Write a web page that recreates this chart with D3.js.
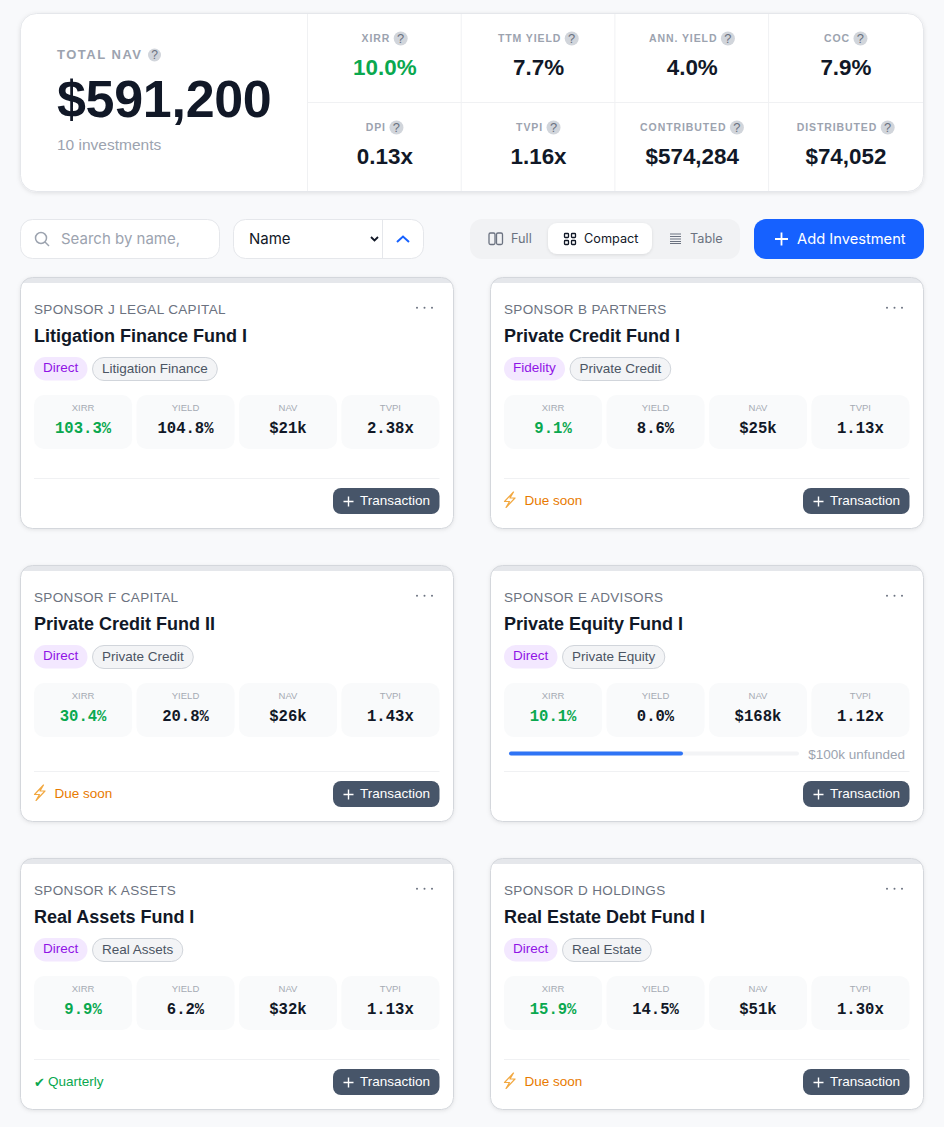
<!DOCTYPE html>
<html>
<head>
<meta charset="utf-8">
<script src="https://cdn.jsdelivr.net/npm/d3@7"></script>
<style>
  html, body { margin: 0; padding: 0; background: #f8f9fb; }
  svg { display: block; }
  text { font-family: "Liberation Sans", Arial, sans-serif; }
  .inter { font-family: Inter, sans-serif; }
  .mono { font-family: "Liberation Mono", monospace; font-weight: 700; }
  .dingbat { font-family: "DejaVu Sans", sans-serif; }
</style>
</head>
<body>
<svg width="944" height="1127"></svg>
<script>
// summary panel
var navLabel = "TOTAL NAV", navValue = "$591,200", navCount = "10 investments";
var statLabels = ["XIRR", "TTM YIELD", "ANN. YIELD", "COC", "DPI", "TVPI", "CONTRIBUTED", "DISTRIBUTED"];
var statValues = ["10.0%", "7.7%", "4.0%", "7.9%", "0.13x", "1.16x", "$574,284", "$74,052"];

// cards
var sponsors = ["SPONSOR J LEGAL CAPITAL", "SPONSOR B PARTNERS", "SPONSOR F CAPITAL", "SPONSOR E ADVISORS", "SPONSOR K ASSETS", "SPONSOR D HOLDINGS"];
var funds = ["Litigation Finance Fund I", "Private Credit Fund I", "Private Credit Fund II", "Private Equity Fund I", "Real Assets Fund I", "Real Estate Debt Fund I"];
var channels = ["Direct", "Fidelity", "Direct", "Direct", "Direct", "Direct"];
var assetClasses = ["Litigation Finance", "Private Credit", "Private Credit", "Private Equity", "Real Assets", "Real Estate"];
var metricNames = ["XIRR", "YIELD", "NAV", "TVPI"];
var xirrs = ["103.3%", "9.1%", "30.4%", "10.1%", "9.9%", "15.9%"];
var yields = ["104.8%", "8.6%", "20.8%", "0.0%", "6.2%", "14.5%"];
var navs = ["$21k", "$25k", "$26k", "$168k", "$32k", "$51k"];
var tvpis = ["2.38x", "1.13x", "1.43x", "1.12x", "1.13x", "1.30x"];
var statuses = ["", "Due soon", "Due soon", "", "Quarterly", "Due soon"];
var fundedShare = [null, null, null, 0.6, null, null];
var unfundedLabels = ["", "", "", "$100k unfunded", "", ""];

var svg = d3.select("svg");
var ink = "#111827", green = "#0aa84f", grey = "#9ca3af", line = "#f0f1f3", blue = "#1661ff";

function txt(g, x, y, s, size, fill, opts) {
  opts = opts || {};
  return g.append("text").attr("x", x).attr("y", y).text(s)
    .attr("font-size", size).attr("fill", fill)
    .attr("text-anchor", opts.anchor || "start")
    .attr("font-weight", opts.weight || 400)
    .attr("letter-spacing", opts.spacing || null)
    .attr("class", opts.cls || null);
}

function help(g, cx, cy, r) {
  g.append("circle").attr("cx", cx).attr("cy", cy).attr("r", r).attr("fill", "#d1d5db");
  txt(g, cx, cy + r * 0.62, "?", r * 1.85, "#6b7280", { anchor: "middle" });
}

var defs = svg.append("defs");
var shadow = defs.append("filter").attr("id", "soft").attr("x", "-5%").attr("y", "-5%").attr("width", "110%").attr("height", "112%");
shadow.append("feDropShadow").attr("dx", 0).attr("dy", 1).attr("stdDeviation", 2).attr("flood-color", "#000").attr("flood-opacity", 0.1);
var shadowS = defs.append("filter").attr("id", "soft2").attr("x", "-10%").attr("y", "-20%").attr("width", "120%").attr("height", "150%");
shadowS.append("feDropShadow").attr("dx", 0).attr("dy", 1).attr("stdDeviation", 1.5).attr("flood-color", "#000").attr("flood-opacity", 0.1);

// ---- summary panel
var panel = svg.append("g");
panel.append("rect").attr("x", 20.5).attr("y", 13.5).attr("width", 903).attr("height", 178).attr("rx", 16)
  .attr("fill", "#fff").attr("stroke", "#e5e7eb").attr("filter", "url(#soft)");

txt(panel, 57, 59, navLabel, 13, grey, { weight: 700, spacing: "1.5px" });
help(panel, 154.5, 55, 6.5);
txt(panel, 57, 117, navValue, 52, ink, { weight: 700, spacing: "-0.3px" });
txt(panel, 57, 150, navCount, 15.5, grey);

var statX = d3.scaleBand().domain(d3.range(4)).range([307.5, 922.3]);
var statY = d3.scaleBand().domain(d3.range(2)).range([13.5, 191.5]);

statX.domain().forEach(function (i) {
  panel.append("line").attr("x1", statX(i)).attr("x2", statX(i)).attr("y1", 14).attr("y2", 191).attr("stroke", line);
});
panel.append("line").attr("x1", 308).attr("x2", 923).attr("y1", 102.5).attr("y2", 102.5).attr("stroke", line);

statLabels.forEach(function (d, i) {
  var col = i % 4, row = Math.floor(i / 4);
  var cx = statX(col) + statX.bandwidth() / 2, y0 = statY(row);
  var g = panel.append("g");
  var t = txt(g, cx - 8.5, y0 + 28.5, d, 10.5, grey, { anchor: "middle", weight: 700, spacing: "0.9px" });
  var w = t.node().getComputedTextLength();
  help(g, cx - 8.5 + w / 2 + 10.5, y0 + 25, 7);
  txt(g, cx + 0.5, y0 + 61.5, statValues[i], 22.4, i === 0 ? green : ink, { anchor: "middle", weight: 700 });
});

// ---- toolbar
var bar = svg.append("g");
bar.append("rect").attr("x", 20.5).attr("y", 219.5).attr("width", 199).attr("height", 39).attr("rx", 12).attr("fill", "#fff").attr("stroke", "#e5e7eb");
bar.append("circle").attr("cx", 41).attr("cy", 238).attr("r", 5.5).attr("fill", "none").attr("stroke", grey).attr("stroke-width", 1.5);
bar.append("line").attr("x1", 45).attr("y1", 242).attr("x2", 49).attr("y2", 246).attr("stroke", grey).attr("stroke-width", 1.5);
txt(bar, 61, 244, "Search by name,", 15, grey, { cls: "inter" });

bar.append("rect").attr("x", 233.5).attr("y", 219.5).attr("width", 190).attr("height", 39).attr("rx", 12).attr("fill", "#fff").attr("stroke", "#e5e7eb");
bar.append("line").attr("x1", 382.5).attr("x2", 382.5).attr("y1", 220).attr("y2", 258).attr("stroke", "#e5e7eb");
txt(bar, 249, 244, "Name", 15, ink, { cls: "inter" });
bar.append("path").attr("d", "M371 237l3.5 3.5 3.5-3.5").attr("fill", "none").attr("stroke", ink).attr("stroke-width", 1.8);
bar.append("path").attr("d", "M397 242l6-5.5 6 5.5").attr("fill", "none").attr("stroke", blue).attr("stroke-width", 2);

// view toggle
bar.append("rect").attr("x", 470).attr("y", 219).attr("width", 270).attr("height", 40).attr("rx", 12).attr("fill", "#f1f2f4");
bar.append("rect").attr("x", 548).attr("y", 223).attr("width", 104).attr("height", 31).attr("rx", 9).attr("fill", "#fff").attr("filter", "url(#soft2)");
bar.append("rect").attr("x", 489).attr("y", 233).attr("width", 6).attr("height", 11.5).attr("rx", 1.5).attr("fill", "none").attr("stroke", "#6b7280").attr("stroke-width", 1.3);
bar.append("rect").attr("x", 496.5).attr("y", 233).attr("width", 6).attr("height", 11.5).attr("rx", 1.5).attr("fill", "none").attr("stroke", "#6b7280").attr("stroke-width", 1.3);
txt(bar, 511, 243, "Full", 12.7, "#6b7280", { cls: "inter" });
[[564.5, 233.5], [571.5, 233.5], [564.5, 240.5], [571.5, 240.5]].forEach(function (p) {
  bar.append("rect").attr("x", p[0]).attr("y", p[1]).attr("width", 4).attr("height", 4).attr("rx", 0.8).attr("fill", "none").attr("stroke", ink).attr("stroke-width", 1.3);
});
txt(bar, 584, 243, "Compact", 12.7, ink, { cls: "inter" });
[234, 236.5, 239, 241.5, 243.5].forEach(function (y) {
  bar.append("line").attr("x1", 670).attr("x2", 681).attr("y1", y).attr("y2", y).attr("stroke", "#6b7280");
});
txt(bar, 690, 243, "Table", 12.7, "#6b7280", { cls: "inter" });

bar.append("rect").attr("x", 754).attr("y", 219).attr("width", 170).attr("height", 40).attr("rx", 12).attr("fill", blue);
bar.append("path").attr("d", "M775 239h13M781.5 232.5v13").attr("stroke", "#fff").attr("stroke-width", 1.8);
txt(bar, 797, 244, "Add Investment", 14.7, "#fff", { cls: "inter" });

// ---- cards
var cardX = d3.scaleBand().domain(d3.range(2)).range([20.5, 923.5]).paddingInner(37 / 470);
var rowTops = [277.5, 565.5, 858.5];
var rowHeights = [251, 256, 251];
var tileX = d3.scaleBand().domain(metricNames).range([13.5, 419]).paddingInner(0.042);
var fundScale = d3.scaleLinear().domain([0, 1]).range([509, 799]);

sponsors.forEach(function (sponsor, i) {
  var row = Math.floor(i / 2), h = rowHeights[row];
  var g = svg.append("g").attr("transform", "translate(" + cardX(i % 2) + "," + rowTops[row] + ")");
  var w = cardX.bandwidth();
  var clipId = "c" + i;
  defs.append("clipPath").attr("id", clipId).append("rect").attr("width", w).attr("height", h).attr("rx", 12);

  g.append("rect").attr("width", w).attr("height", h).attr("rx", 12).attr("fill", "#fff").attr("filter", "url(#soft)");
  g.append("rect").attr("width", w).attr("height", 5.5).attr("fill", "#e5e7eb").attr("clip-path", "url(#" + clipId + ")");
  g.append("rect").attr("width", w).attr("height", h).attr("rx", 12).attr("fill", "none").attr("stroke", "#d4d7dc");

  txt(g, 13.5, 36.5, sponsor, 13.5, "#6b7280", { spacing: "0.35px" });
  [396.5, 404, 411.5].forEach(function (x) {
    g.append("circle").attr("cx", x).attr("cy", 30.2).attr("r", 1).attr("fill", "#6b7280");
  });
  txt(g, 13.5, 64, funds[i], 18, ink, { weight: 700 });

  // pills
  var cw = channels[i] === "Fidelity" ? 61 : 53.5;
  g.append("rect").attr("x", 13.5).attr("y", 79.5).attr("width", cw).attr("height", 23.5).attr("rx", 11.7).attr("fill", "#f3e8ff");
  txt(g, 13.5 + cw / 2, 94.5, channels[i], 13.5, "#9013e6", { anchor: "middle" });
  var px = 13.5 + cw + 5;
  var pill = g.append("rect").attr("x", px).attr("y", 80).attr("height", 23).attr("rx", 11.5).attr("fill", "#f3f4f6").attr("stroke", "#d1d5db");
  var cls = txt(g, px + 9.5, 95.5, assetClasses[i], 13.5, "#4b5563");
  pill.attr("width", cls.node().getComputedTextLength() + 19);

  // metric tiles
  var vals = [xirrs[i], yields[i], navs[i], tvpis[i]];
  metricNames.forEach(function (m, j) {
    var tx = tileX(m), cx = tx + tileX.bandwidth() / 2;
    g.append("rect").attr("x", tx).attr("y", 117.5).attr("width", tileX.bandwidth()).attr("height", 54).attr("rx", 10).attr("fill", "#f9fafb");
    txt(g, cx, 133.5, m, 9.5, "#a6abb4", { anchor: "middle" });
    txt(g, cx, 155, vals[j], 15.6, j === 0 ? green : ink, { anchor: "middle", cls: "mono" });
  });

  // unfunded bar
  if (fundedShare[i] != null) {
    var fx = function (v) { return fundScale(v) - cardX(1); };
    g.append("rect").attr("x", fx(0)).attr("y", 186).attr("width", fx(1) - fx(0)).attr("height", 4).attr("rx", 2).attr("fill", "#f3f4f6");
    g.append("rect").attr("x", fx(0)).attr("y", 186).attr("width", fx(fundedShare[i]) - fx(0)).attr("height", 4).attr("rx", 2).attr("fill", "#2f74f5");
    txt(g, 414.5, 193, unfundedLabels[i], 13.5, grey, { anchor: "end" });
  }

  // footer
  var dy = h - 50;
  g.append("line").attr("x1", 13.5).attr("x2", 419).attr("y1", dy).attr("y2", dy).attr("stroke", line);
  g.append("rect").attr("x", 312.5).attr("y", dy + 9.5).attr("width", 106.5).attr("height", 26).attr("rx", 8).attr("fill", "#475569");
  g.append("path").attr("d", "M323 " + (dy + 23) + "h10M328 " + (dy + 18) + "v10").attr("stroke", "#fff").attr("stroke-width", 1.4);
  txt(g, 339.5, dy + 26.3, "Transaction", 13.5, "#fff");

  if (statuses[i] === "Due soon") {
    g.append("path").attr("d", "M23 " + (dy + 13.5) + "l-9 9.5h5l-3.5 6 9-9.5h-5z").attr("fill", "none").attr("stroke", "#f2a840").attr("stroke-width", 1.2).attr("stroke-linejoin", "round");
    txt(g, 34, dy + 26.5, statuses[i], 13.5, "#e87a00");
  } else if (statuses[i] === "Quarterly") {
    txt(g, 13.5, dy + 27, "\u2714", 13, green, { cls: "dingbat" });
    txt(g, 27.5, dy + 26.5, statuses[i], 13.5, green);
  }
});
</script>
</body>
</html>
